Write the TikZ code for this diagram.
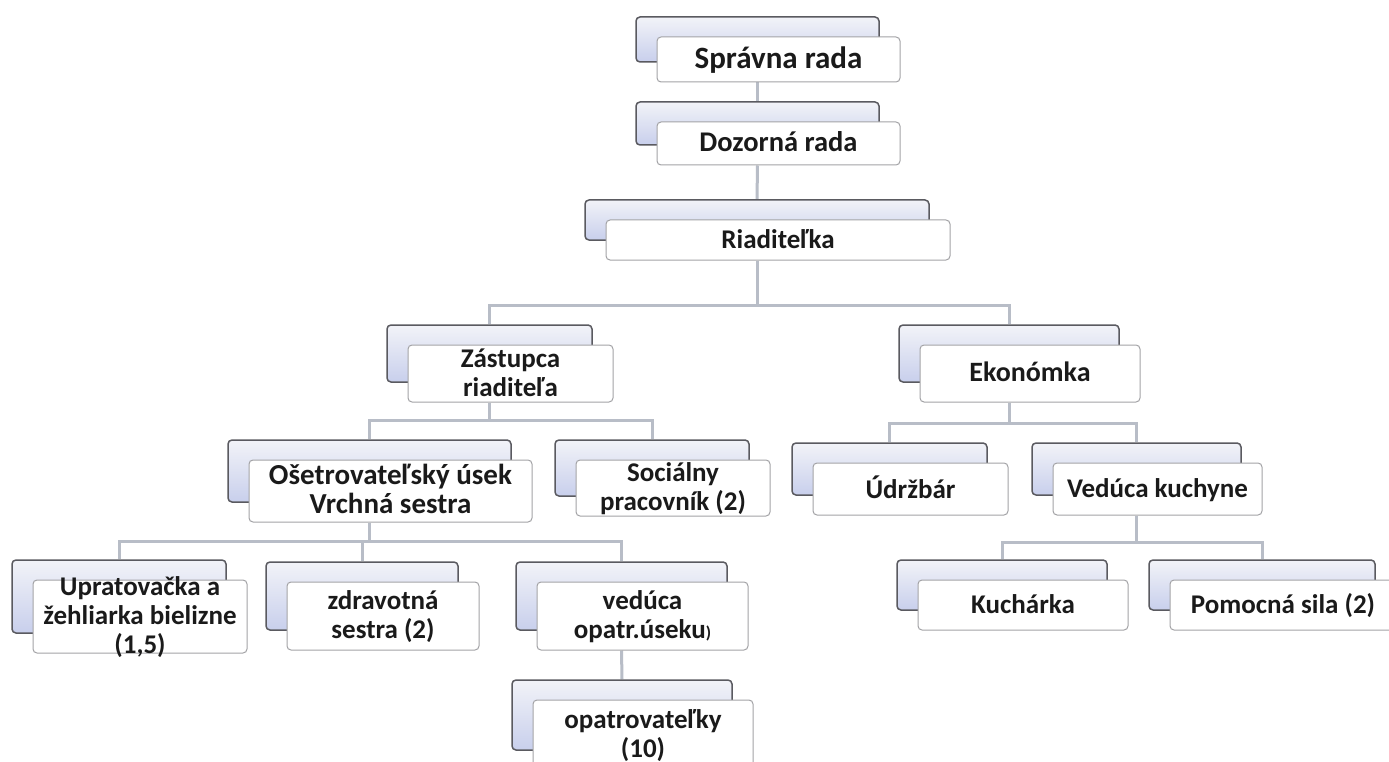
\documentclass[tikz,border=0pt]{standalone}
\usepackage{fontspec}
\setmainfont{Carlito}
\usetikzlibrary{backgrounds}
\definecolor{conncol}{HTML}{B8BDC7}
\definecolor{backdraw}{HTML}{5A5A60}
\definecolor{backtop}{HTML}{F2F3F8}
\definecolor{backbot}{HTML}{C8CFEC}
\definecolor{frontdraw}{HTML}{A3A3A6}
\definecolor{txt}{HTML}{1A1A1A}
\tikzset{
  backbox/.style={draw=backdraw, line width=1.5pt, rounded corners=4pt, top color=backtop, bottom color=backbot, inner sep=0pt},
  frontbox/.style={draw=frontdraw, line width=1pt, rounded corners=4pt, fill=white, inner sep=0pt, text=txt, font=\fontsize{27}{29}\selectfont\bfseries},
  conn/.style={draw=conncol, line width=3pt},
}
\newcommand{\orgunit}[6]{%
  \pgfmathsetmacro{\uw}{#4-#2}%
  \pgfmathsetmacro{\uh}{#5-#3}%
  \node[backbox, minimum width=\uw pt, minimum height=\uh pt] (#1B) at ({(#2+#4)/2-21},{(#3+#5)/2-20}) {};
  \node[frontbox, minimum width=\uw pt, minimum height=\uh pt] (#1) at ({(#2+#4)/2},{(#3+#5)/2}) {\smash{\raisebox{-8.5pt}{\begin{tabular}{@{}c@{}}#6\end{tabular}}}};
}
\begin{document}
\begin{tikzpicture}[x=1pt,y=-1pt]
\useasboundingbox (0,0) rectangle (1389,762);
\orgunit{spr}{657}{37}{900}{82}{\fontsize{31}{33}\selectfont Správna rada}
\orgunit{doz}{657}{122}{900}{165}{\fontsize{28.5}{30}\selectfont Dozorná rada}
\orgunit{ria}{606}{220}{950}{260}{Riaditeľka}
\orgunit{zas}{408}{345}{613}{402}{Zástupca\\riaditeľa}
\orgunit{eko}{920}{345}{1140}{402}{\fontsize{28}{30}\selectfont Ekonómka}
\orgunit{ose}{249}{460}{532}{522}{\fontsize{29}{30}\selectfont Ošetrovateľský úsek\\\fontsize{29}{30}\selectfont Vrchná sestra}
\orgunit{soc}{576}{460}{770}{516}{Sociálny\\pracovník (2)}
\orgunit{udr}{813}{463}{1008}{515}{Údržbár}
\orgunit{vku}{1053}{463}{1262}{515}{Vedúca kuchyne}
\orgunit{upr}{33}{580}{247}{653}{Upratovačka a\\žehliarka bielizne\\(1,5)}
\orgunit{zdr}{287}{582}{479}{650}{zdravotná\\sestra (2)}
\orgunit{vop}{537}{582}{748}{650}{vedúca\\opatr.úseku{\fontsize{17}{20}\selectfont)}}
\orgunit{kuc}{918}{580}{1128}{630}{Kuchárka}
\orgunit{pom}{1170}{580}{1396}{630}{Pomocná sila (2)}
\orgunit{opa}{533}{700}{753}{770}{opatrovateľky\\(10)}
\begin{pgfonlayer}{background}
\fill[white] (0,0) rectangle (1389,762);
\draw[conn] (spr.south -| sprB.north) -- (dozB.north);
\draw[conn] (doz.south -| dozB.north) -- (riaB.north);
\draw[conn] (ria.south -| riaB.north) -- ++(0,45) coordinate (j1);
\draw[conn] (zasB.north) |- (j1) -| (ekoB.north);
\draw[conn] (zas.south -| zasB.north) -- ++(0,18) coordinate (j2);
\draw[conn] (oseB.north) |- (j2) -| (socB.north);
\draw[conn] (eko.south -| ekoB.north) -- ++(0,21) coordinate (j3);
\draw[conn] (udrB.north) |- (j3) -| (vkuB.north);
\draw[conn] (ose.south -| oseB.north) -- ++(0,19) coordinate (j4);
\draw[conn] (uprB.north) |- (j4) -| (vopB.north);
\draw[conn] (zdrB.north) -- (zdrB.north |- j4);
\draw[conn] (vku.south -| vkuB.north) -- ++(0,27) coordinate (j5);
\draw[conn] (kucB.north) |- (j5) -| (pomB.north);
\draw[conn] (vop.south -| vopB.north) -- (opaB.north);
\end{pgfonlayer}
\end{tikzpicture}
\end{document}
